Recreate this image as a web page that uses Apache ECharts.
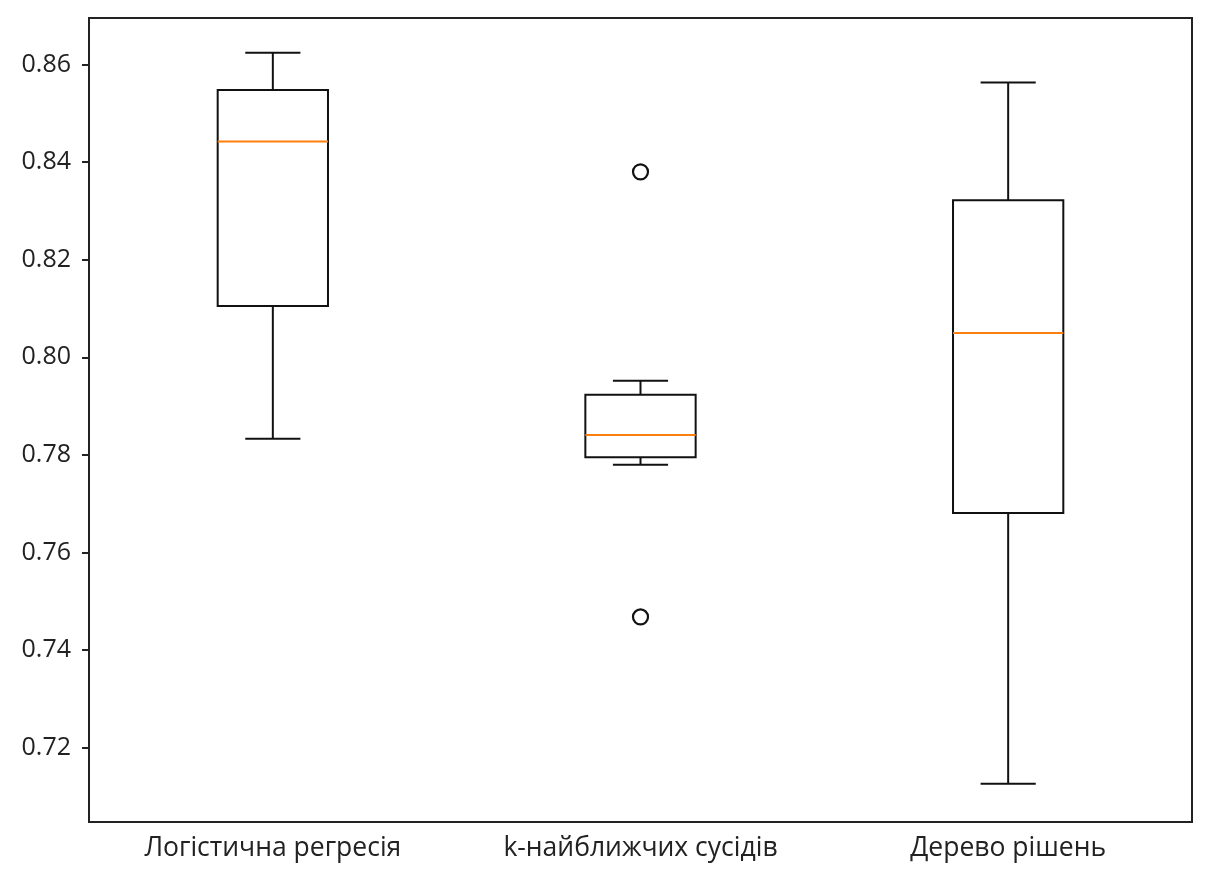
<!DOCTYPE html>
<html>
<head>
<meta charset="utf-8">
<script src="https://cdn.jsdelivr.net/npm/echarts@6/dist/echarts.min.js"></script>
<style>
  html, body { margin: 0; padding: 0; background: #fff; }
  #chart { width: 1208px; height: 880px; }
</style>
</head>
<body>
<div id="chart"></div>
<script>
// data
var categories = ['Логістична регресія', 'k-найближчих сусідів', 'Дерево рішень'];
// [min whisker, Q1, median, Q3, max whisker]
var boxLogReg = [0.7833, 0.8105, 0.8442, 0.8548, 0.8624];
var boxKnn = [0.7780, 0.7795, 0.7841, 0.7923, 0.7952];
var boxTree = [0.7126, 0.7681, 0.8050, 0.8322, 0.8563];
var outliers = [[1, 0.8380], [1, 0.7468]];
var yTicks = [0.72, 0.74, 0.76, 0.78, 0.80, 0.82, 0.84, 0.86];
var yMin = 0.70477, yMax = 0.86953;

var boxes = [boxLogReg, boxKnn, boxTree];
var boxData = boxes.map(function (b, i) { return [i].concat(b); });

var myChart = echarts.init(document.getElementById('chart'));

function renderBox(params, api) {
    var idx = api.value(0);
    var band = api.size([1, 0])[0];
    var half = band * 0.3 / 2;
    var cap = half / 2;
    var pMin = api.coord([idx, api.value(1)]);
    var pQ1 = api.coord([idx, api.value(2)]);
    var pMed = api.coord([idx, api.value(3)]);
    var pQ3 = api.coord([idx, api.value(4)]);
    var pMax = api.coord([idx, api.value(5)]);
    var x = pQ1[0];
    var line = { stroke: '#111', lineWidth: 2 };
    return {
        type: 'group',
        children: [
            { type: 'line', shape: { x1: x, y1: pMin[1], x2: x, y2: pQ1[1] }, style: line },
            { type: 'line', shape: { x1: x, y1: pQ3[1], x2: x, y2: pMax[1] }, style: line },
            { type: 'line', shape: { x1: x - cap, y1: pMin[1], x2: x + cap, y2: pMin[1] }, style: line },
            { type: 'line', shape: { x1: x - cap, y1: pMax[1], x2: x + cap, y2: pMax[1] }, style: line },
            { type: 'rect', shape: { x: x - half, y: pQ3[1], width: half * 2, height: pQ1[1] - pQ3[1] },
              style: { fill: 'none', stroke: '#111', lineWidth: 2 } },
            { type: 'line', shape: { x1: x - half, y1: pMed[1], x2: x + half, y2: pMed[1] },
              style: { stroke: '#ff7f0e', lineWidth: 2 } }
        ]
    };
}

var option = {
    backgroundColor: '#fff',
    animation: false,
    textStyle: { fontFamily: 'Open Sans' },
    grid: {
        left: 89, right: 16, top: 18, bottom: 58,
        show: true, borderColor: '#222', borderWidth: 2, backgroundColor: 'transparent'
    },
    xAxis: {
        type: 'category',
        data: categories,
        boundaryGap: true,
        axisLine: { lineStyle: { color: '#222', width: 2 } },
        axisTick: { alignWithLabel: true, length: 7, lineStyle: { color: '#222', width: 2 } },
        axisLabel: { color: '#222', fontSize: 26.5, margin: 13, fontFamily: 'Open Sans' },
        splitLine: { show: false }
    },
    yAxis: {
        type: 'value',
        min: yMin,
        max: yMax,
        axisLine: { show: true, lineStyle: { color: '#222', width: 2 } },
        axisTick: { show: true, length: 7, customValues: yTicks, lineStyle: { color: '#222', width: 2 } },
        axisLabel: {
            customValues: yTicks,
            color: '#222', fontSize: 25, margin: 18, fontFamily: 'Open Sans',
            formatter: function (v) { return v.toFixed(2); }
        },
        splitLine: { show: false }
    },
    series: [
        {
            type: 'custom',
            renderItem: renderBox,
            encode: { x: 0, y: [1, 2, 3, 4, 5] },
            data: boxData
        },
        {
            type: 'scatter',
            symbol: 'circle',
            symbolSize: 15,
            itemStyle: { color: '#fff', borderColor: '#111', borderWidth: 2.2, opacity: 1 },
            data: outliers
        }
    ]
};
myChart.setOption(option);
</script>
</body>
</html>
